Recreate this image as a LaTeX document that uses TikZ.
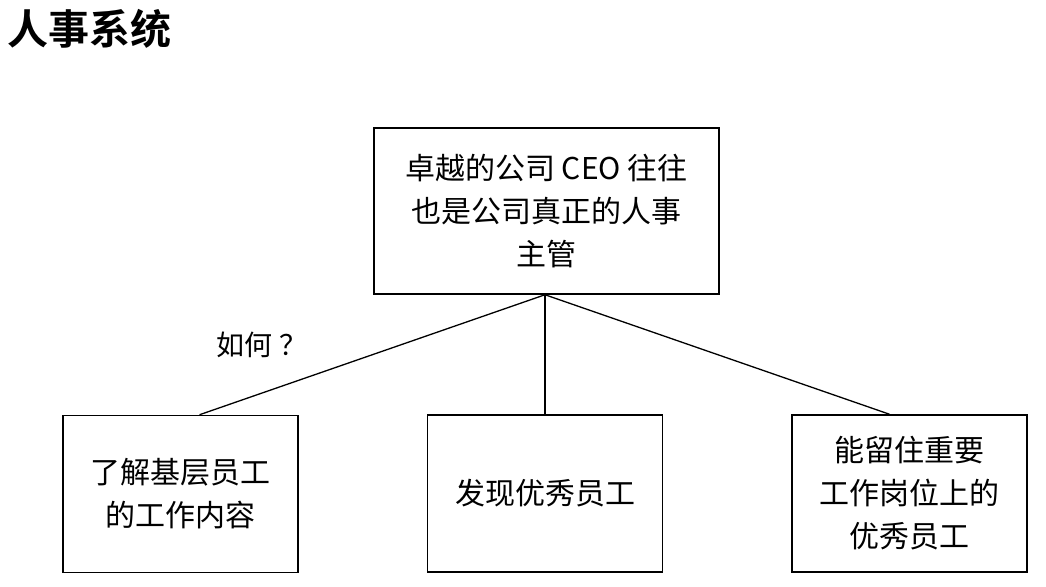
\documentclass[tikz,border=0pt]{standalone}
\usepackage{fontspec}
\setmainfont{Liberation Sans}
\newfontfamily\cjk{Noto Sans CJK SC}
\newfontfamily\cjkbold{Noto Sans CJK SC Bold}
\begin{document}
\begin{tikzpicture}[x=1pt,y=-1pt,
  box/.style={draw, line width=1.5pt, minimum width=235pt, minimum height=157pt,
    align=center, inner sep=0pt, font=\cjk\fontsize{30}{43}\selectfont},
  link/.style={line width=1.3pt}]
\useasboundingbox (0,0) rectangle (1046,586);
\fill[white] (0,0) rectangle (1046,586);
\node[anchor=west, font=\cjkbold\fontsize{41}{41}\selectfont, inner sep=0pt] (title) at (7,29) {人事系统};
\node[box, minimum width=345pt, minimum height=166pt] (top) at (546.5,211) {卓越的公司 CEO 往往\\也是公司真正的人事\\主管};
\node[box] (l) at (180.5,494) {了解基层员工\\的工作内容};
\node[box] (m) at (545,493.5) {发现优秀员工};
\node[box] (r) at (909.5,493.5) {能留住重要\\工作岗位上的\\优秀员工};
\node[font=\cjk\fontsize{28}{28}\selectfont, inner sep=0pt] (q) at (262,345) {如何\hspace{7pt}？};
\coordinate (hub) at ([xshift=-1.5pt]top.south);
\draw[link] (hub) -- ([xshift=19pt]l.north);
\draw[link] (hub) -- (m.north);
\draw[link] (hub) -- ([xshift=-20pt]r.north);
\end{tikzpicture}
\end{document}
